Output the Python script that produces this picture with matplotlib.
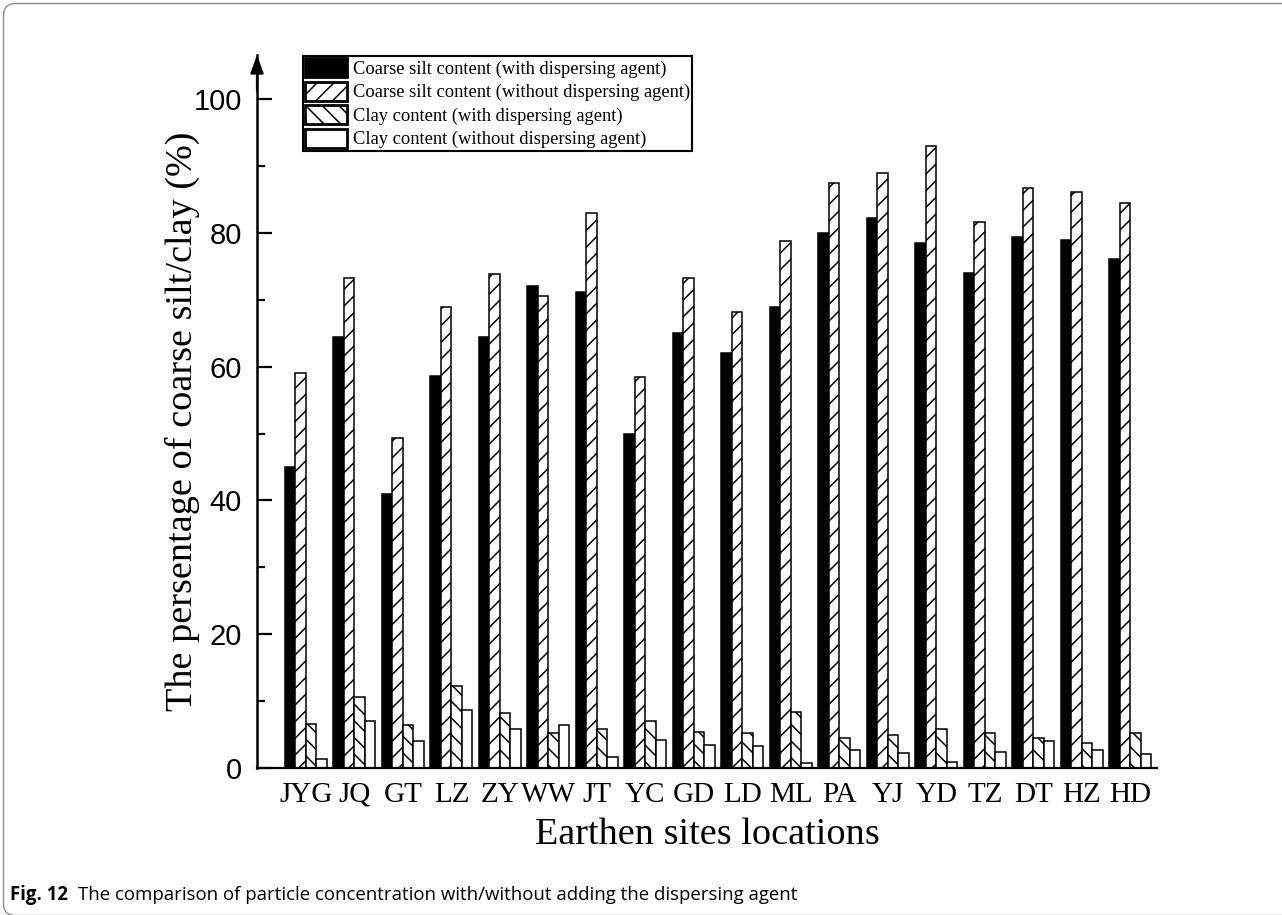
import matplotlib
matplotlib.use("Agg")
import matplotlib.pyplot as plt
import numpy as np
from matplotlib.patches import Patch, FancyBboxPatch
from matplotlib.ticker import MultipleLocator
from matplotlib.transforms import IdentityTransform

sites = ["JYG", "JQ", "GT", "LZ", "ZY", "WW", "JT", "YC", "GD", "LD", "ML",
         "PA", "YJ", "YD", "TZ", "DT", "HZ", "HD"]
coarse_with = [45.0, 64.5, 41.0, 58.6, 64.4, 72.0, 71.1, 50.0, 65.0, 62.0, 68.9,
               80.0, 82.2, 78.5, 74.0, 79.4, 79.0, 76.1]
coarse_without = [59.0, 73.2, 49.4, 68.9, 73.8, 70.6, 83.0, 58.5, 73.2, 68.2, 78.8,
                  87.4, 88.9, 93.0, 81.6, 86.7, 86.1, 84.5]
clay_with = [6.6, 10.6, 6.5, 12.3, 8.2, 5.3, 5.8, 7.0, 5.4, 5.3, 8.3,
             4.5, 5.0, 5.9, 5.2, 4.5, 3.8, 5.2]
clay_without = [1.4, 7.0, 4.0, 8.6, 5.8, 6.5, 1.7, 4.2, 3.4, 3.3, 0.8,
                2.7, 2.3, 0.9, 2.4, 4.1, 2.7, 2.1]
series_labels = ["Coarse silt content (with dispersing agent)",
                 "Coarse silt content (without dispersing agent)",
                 "Clay content (with dispersing agent)",
                 "Clay content (without dispersing agent)"]

SERIF = ["Liberation Serif", "DejaVu Serif"]
SANS = ["Liberation Sans", "DejaVu Sans"]

W, H = 1282, 915
fig = plt.figure(figsize=(W / 100, H / 100), dpi=100)
plt.rcParams["hatch.linewidth"] = 1.1

ax = fig.add_axes([257 / W, (H - 768) / H, 900 / W, 713 / H])

x = np.arange(len(sites))
bw = 0.2165
styles = [dict(facecolor="black", hatch=None),
          dict(facecolor="white", hatch="//"),
          dict(facecolor="white", hatch="\\\\"),
          dict(facecolor="white", hatch=None)]
data = [coarse_with, coarse_without, clay_with, clay_without]
for k, (vals, st) in enumerate(zip(data, styles)):
    ax.bar(x + (k - 1.5) * bw, vals, width=bw, facecolor=st["facecolor"],
           hatch=st["hatch"], edgecolor="black", linewidth=1.1, zorder=2)

ax.set_xlim(-1.01, 17.55)
ax.set_ylim(0, 106.6)
for s in ["top", "right"]:
    ax.spines[s].set_visible(False)
ax.spines["left"].set_linewidth(1.8)
ax.spines["bottom"].set_linewidth(1.6)

ax.set_xticks(x)
ax.set_xticklabels(sites, family=SERIF, fontsize=21)
ax.tick_params(axis="x", length=0, pad=10)

ax.yaxis.set_major_locator(MultipleLocator(20))
ax.yaxis.set_minor_locator(MultipleLocator(10))
ax.tick_params(axis="y", which="major", direction="in", length=11, width=1.6,
               pad=11, labelsize=21)
ax.tick_params(axis="y", which="minor", direction="in", length=6, width=1.6)
for lab in ax.get_yticklabels():
    lab.set_family(SANS)

ax.annotate("", xy=(0, 1.0), xytext=(0, 0.95), xycoords="axes fraction",
            arrowprops=dict(arrowstyle="-|>,head_length=0.55,head_width=0.2",
                            mutation_scale=20, color="black", lw=1.6,
                            shrinkA=0, shrinkB=0), annotation_clip=False)

ax.set_ylabel("The persentage of coarse silt/clay (%)", family=SERIF, fontsize=27.5)
ax.yaxis.set_label_coords((200 - 257) / 900, (768 - 421) / 713)
ax.set_xlabel("Earthen sites locations", family=SERIF, fontsize=27.5)
ax.xaxis.set_label_coords(0.5, -(818 - 768) / 713)

handles = []
for st in styles:
    handles.append(Patch(facecolor=st["facecolor"], hatch=st["hatch"],
                         edgecolor="black", linewidth=2))
leg = ax.legend(handles, series_labels, loc="upper left",
                bbox_to_anchor=(303 / W, 1 - 56 / H), bbox_transform=fig.transFigure,
                prop=dict(family=SERIF, size=13.3), handlelength=2.27,
                handleheight=1.2, handletextpad=0.3, labelspacing=0.2,
                borderpad=0.12, borderaxespad=0, fancybox=False, framealpha=1)
leg.get_frame().set_edgecolor("black")
leg.get_frame().set_linewidth(1.5)

# caption
t1 = fig.text(10 / W, 15 / H, "Fig. 12", family=["Open Sans", "DejaVu Sans"],
              fontweight="bold", fontsize=13.4, va="baseline", ha="left")
fig.canvas.draw()
bb = t1.get_window_extent()
fig.text((bb.x1 + 10) / W, 15 / H,
         "The comparison of particle concentration with/without adding the dispersing agent",
         family=["Open Sans", "DejaVu Sans"], fontsize=13.4, va="baseline", ha="left")

# rounded frame around the figure (right and bottom edges fall outside the crop)
frame = FancyBboxPatch((3.5, -0.5), 1320, 912.0, boxstyle="round,pad=0,rounding_size=12",
                       transform=IdentityTransform(), facecolor="none",
                       edgecolor="#8c8c8c", linewidth=1.0)
fig.patches.append(frame)

fig.savefig("out.png", dpi=100)
